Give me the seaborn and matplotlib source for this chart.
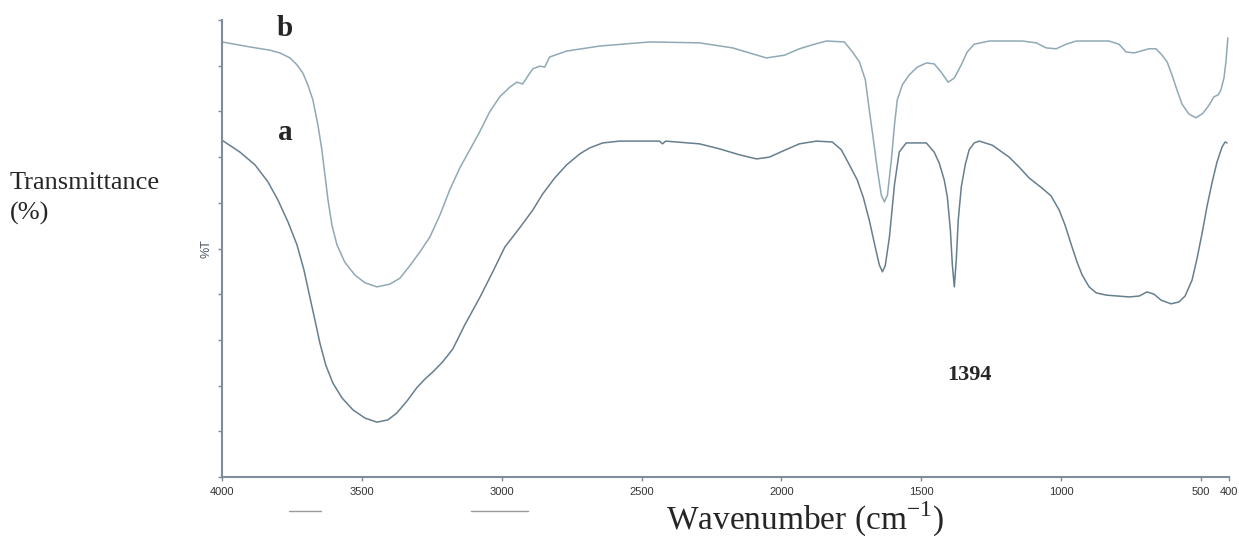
import pandas as pd
import matplotlib.pyplot as plt
import seaborn as sns

# FTIR spectra (wavenumber in cm-1, transmittance in arbitrary %)
wn_b = [4000, 3900, 3829, 3793, 3757, 3732, 3711, 3693, 3675, 3657, 3643, 3632, 3621,
        3607, 3589, 3561, 3525, 3489, 3446, 3400, 3364, 3329, 3293, 3257, 3221, 3186,
        3150, 3114, 3079, 3043, 3007, 2971, 2946, 2925, 2907, 2889, 2864, 2846, 2829,
        2768, 2650, 2471, 2293, 2175, 2054, 1989, 1936, 1882, 1839, 1775, 1746, 1721,
        1700, 1686, 1671, 1657, 1643, 1632, 1621, 1607, 1596, 1586, 1568, 1543, 1514,
        1482, 1454, 1429, 1404, 1382, 1357, 1336, 1311, 1257, 1139, 1089, 1054, 1018,
        982, 946, 829, 793, 768, 739, 686, 661, 639, 621, 604, 586, 568, 543, 518, 493,
        471, 454, 439, 429, 418, 411, 404]
t_b = [95.2, 94.1, 93.4, 92.8, 91.7, 90.2, 88.4, 85.8, 82.5, 77.0, 71.6, 66.1, 60.6,
       55.1, 50.8, 47.0, 44.2, 42.5, 41.6, 42.2, 43.5, 46.2, 49.2, 52.5, 57.3, 62.8,
       67.6, 71.6, 75.5, 79.9, 83.2, 85.3, 86.4, 86.0, 87.7, 89.3, 89.9, 89.7, 91.9,
       93.2, 94.3, 95.2, 95.0, 93.9, 91.7, 92.3, 93.7, 94.7, 95.4, 95.2, 93.0, 90.8,
       86.9, 80.3, 73.7, 67.2, 61.7, 60.2, 61.7, 69.4, 77.0, 82.5, 85.8, 88.0, 89.7,
       90.6, 90.4, 88.6, 86.4, 87.3, 90.2, 93.0, 94.7, 95.4, 95.4, 95.0, 93.9, 93.7,
       94.7, 95.4, 95.4, 94.7, 93.0, 92.8, 93.7, 93.7, 92.3, 90.8, 88.0, 84.7, 81.6, 79.4, 78.6, 79.6,
       81.4, 83.2, 83.6, 84.7, 87.3, 90.8, 96.1]

wn_a = [4000, 3936, 3882, 3836, 3800, 3764, 3732, 3707, 3686, 3668, 3650, 3629, 3604,
        3571, 3532, 3489, 3446, 3407, 3375, 3339, 3304, 3275, 3246, 3211, 3175, 3132,
        3079, 3032, 2989, 2936, 2889, 2854, 2811, 2768, 2721, 2686, 2639, 2579, 2436,
        2425, 2414, 2293, 2221, 2150, 2089, 2043, 1996, 1936, 1875, 1818, 1786, 1757,
        1729, 1707, 1686, 1664, 1650, 1639, 1629, 1614, 1596, 1579, 1554, 1482, 1454,
        1436, 1418, 1407, 1396, 1389, 1382, 1375, 1368, 1357, 1343, 1329, 1311, 1293,
        1246, 1186, 1150, 1114, 1068, 1036, 1007, 986, 961, 943, 925, 900, 875, 839,
        757, 721, 693, 668, 643, 607, 579, 557, 532, 514, 496, 479, 461, 443, 425, 414, 407]
t_a = [73.7, 71.1, 68.3, 64.6, 60.6, 55.8, 50.8, 45.3, 39.4, 34.4, 29.3, 24.5, 20.6,
       17.3, 14.7, 12.9, 12.0, 12.5, 14.0, 16.6, 19.5, 21.4, 23.0, 25.2, 28.0, 33.3,
       39.2, 44.9, 50.3, 54.5, 58.4, 61.9, 65.4, 68.3, 70.7, 72.0, 73.1, 73.5, 73.5,
       72.9, 73.5, 72.9, 71.8, 70.5, 69.6, 70.0, 71.3, 72.9, 73.5, 73.3, 71.6, 68.3,
       65.0, 61.1, 56.2, 50.1, 46.4, 44.9, 46.2, 52.5, 63.9, 71.1, 73.1, 73.1, 71.1,
       68.7, 65.0, 61.3, 54.0, 46.4, 41.6, 47.5, 56.2, 63.5, 68.3, 71.6, 73.1, 73.5,
       72.6, 70.0, 67.8, 65.4, 63.2, 61.5, 58.4, 55.1, 50.3, 47.0, 44.2, 41.6, 40.3, 39.8,
       39.4, 39.6, 40.5, 40.0, 38.7, 37.9, 38.3, 39.6, 43.1, 47.9, 53.4, 59.1, 64.3, 68.9, 72.2, 73.3, 73.1]

x_ticks = [4000, 3500, 3000, 2500, 2000, 1500, 1000, 500, 400]

df_a = pd.DataFrame({"Wavenumber": wn_a, "T": t_a})
df_b = pd.DataFrame({"Wavenumber": wn_b, "T": t_b})

sns.set_style("white")
plt.rcParams['font.family'] = ['Liberation Sans', 'DejaVu Sans']

axis_col = "#7f8c9c"
fig = plt.figure(figsize=(12.39, 5.41), dpi=100)
ax = fig.add_axes([222 / 1239, 64 / 541, 1007 / 1239, 457 / 541])

sns.lineplot(data=df_b, x="Wavenumber", y="T", ax=ax, color="#8fa9b5", lw=1.1, estimator=None)
sns.lineplot(data=df_a, x="Wavenumber", y="T", ax=ax, color="#667f8e", lw=1.1, estimator=None)

ax.set_xlim(4000, 400)
ax.set_ylim(0, 100)
ax.set_xticks(x_ticks)
ax.set_xticklabels([str(v) for v in x_ticks], fontsize=8, color="#333333")
ax.set_yticks(range(0, 101, 10))
ax.set_yticklabels([])
ax.tick_params(axis="both", direction="out", length=3, width=1, color=axis_col, pad=4)
ax.tick_params(left=True, bottom=True)
for side in ["top", "right"]:
    ax.spines[side].set_visible(False)
for side in ["left", "bottom"]:
    ax.spines[side].set_color(axis_col)
    ax.spines[side].set_linewidth(1.5)
ax.set_xlabel("")
ax.set_ylabel("%T", fontsize=9, color="#4a5563", labelpad=0)

serif = ['Liberation Serif', 'DejaVu Serif']
ax.text(3775, 96.5, "b", family=serif, fontsize=21, fontweight="bold", ha="center", va="baseline")
ax.text(3775, 73.7, "a", family=serif, fontsize=21, fontweight="bold", ha="center", va="baseline")
ax.text(1329, 21.2, "1394", family=serif, fontsize=16, fontweight="bold", ha="center", va="baseline")

fig.text(10 / 1239, 1 - 172 / 541, "Transmittance\n(%)", family=serif, fontsize=19,
         ha="left", va="top", linespacing=1.45)
fig.text(805 / 1239, 2 / 541, r"Wavenumber (cm$^{\mathregular{-1}}$)", family=serif,
         fontsize=24, ha="center", va="bottom")

# stray marks under the axis in the original scan
fig.add_artist(plt.Line2D([289 / 1239, 321 / 1239], [1 - 511 / 541] * 2, color="#999999", lw=1))
fig.add_artist(plt.Line2D([471 / 1239, 528 / 1239], [1 - 511 / 541] * 2, color="#999999", lw=1))

fig.savefig("out.png", dpi=100)
